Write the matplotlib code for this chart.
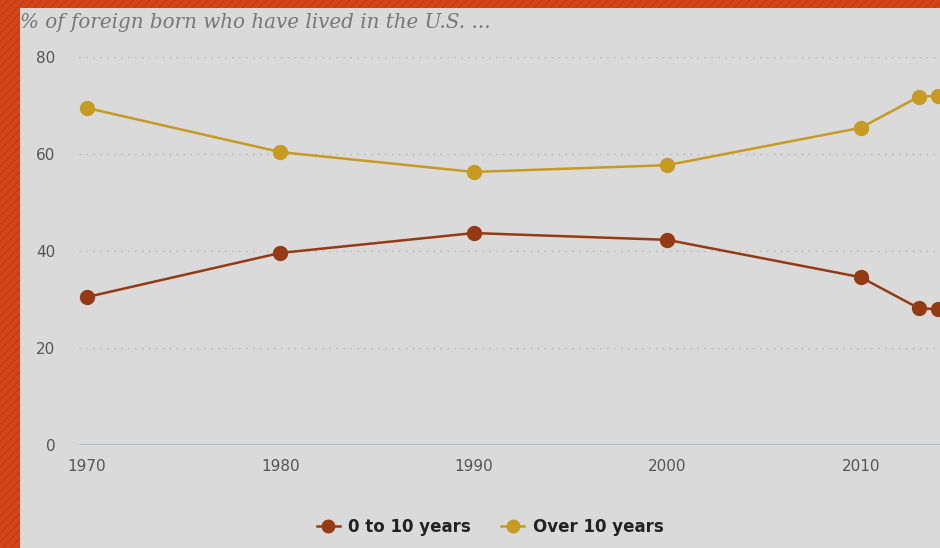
import matplotlib.pyplot as plt
from matplotlib.patches import Rectangle

# Data
years = [1970, 1980, 1990, 2000, 2010, 2013, 2014]
under_10 = [30.5, 39.6, 43.7, 42.3, 34.6, 28.2, 28.0]
over_10 = [69.5, 60.4, 56.3, 57.7, 65.4, 71.8, 72.0]
x_ticks = [1970, 1980, 1990, 2000, 2010]
y_ticks = [0, 20, 40, 60, 80]

brown = '#953a12'
gold = '#c79a20'
panel = '#dadada'

fig = plt.figure(figsize=(9.4, 5.48), dpi=100)
fig.patch.set_facecolor('#d4461a')

# striped orange frame + gray panel
fig.patches.append(Rectangle((0, 0), 1, 1, transform=fig.transFigure,
                             facecolor='none', edgecolor='#c23d14', hatch='////',
                             linewidth=0, zorder=0))
fig.patches.append(Rectangle((20 / 940, 0), 1 - 20 / 940, 540 / 548,
                             transform=fig.transFigure, facecolor=panel,
                             edgecolor='none', zorder=1))

ax = fig.add_axes([79 / 940, 103 / 548, 1 - 79 / 940, 388 / 548])
ax.set_facecolor('none')
ax.set_zorder(2)

ax.plot(years, under_10, '-o', color=brown, lw=1.8, ms=10, mfc=brown, mec=brown,
        label='0 to 10 years', clip_on=False, zorder=4)
ax.plot(years, over_10, '-o', color=gold, lw=1.8, ms=10, mfc=gold, mec=gold,
        label='Over 10 years', clip_on=False, zorder=4)

ax.set_xlim(1969.6, 2014.1)
ax.set_ylim(0, 80)
ax.set_xticks(x_ticks)
ax.set_yticks(y_ticks)
ax.tick_params(length=0, labelsize=11, colors='#555555')
ax.tick_params(axis='x', pad=10)
ax.tick_params(axis='y', pad=17)
for s in ax.spines.values():
    s.set_visible(False)
ax.grid(axis='y', color='#b4b4b4', linestyle=(0, (1, 4)), lw=1)
ax.axhline(0, color='#b8bcc4', lw=1.5, zorder=3)

fig.text(20 / 940, 1 - 22 / 548, '% of foreign born who have lived in the U.S. ...',
         family='DejaVu Serif', style='italic', fontsize=14.3, color='#777777',
         va='center', ha='left', zorder=5)

leg = fig.legend(loc='center', bbox_to_anchor=(490 / 940, 1 - 527 / 548), ncol=2,
                 frameon=False, prop={'weight': 'bold', 'size': 12},
                 handlelength=1.4, markerscale=0.9, columnspacing=1.8,
                 handletextpad=0.5)
for t in leg.get_texts():
    t.set_color('#222222')

fig.savefig('out.png', dpi=100, facecolor=fig.get_facecolor())
